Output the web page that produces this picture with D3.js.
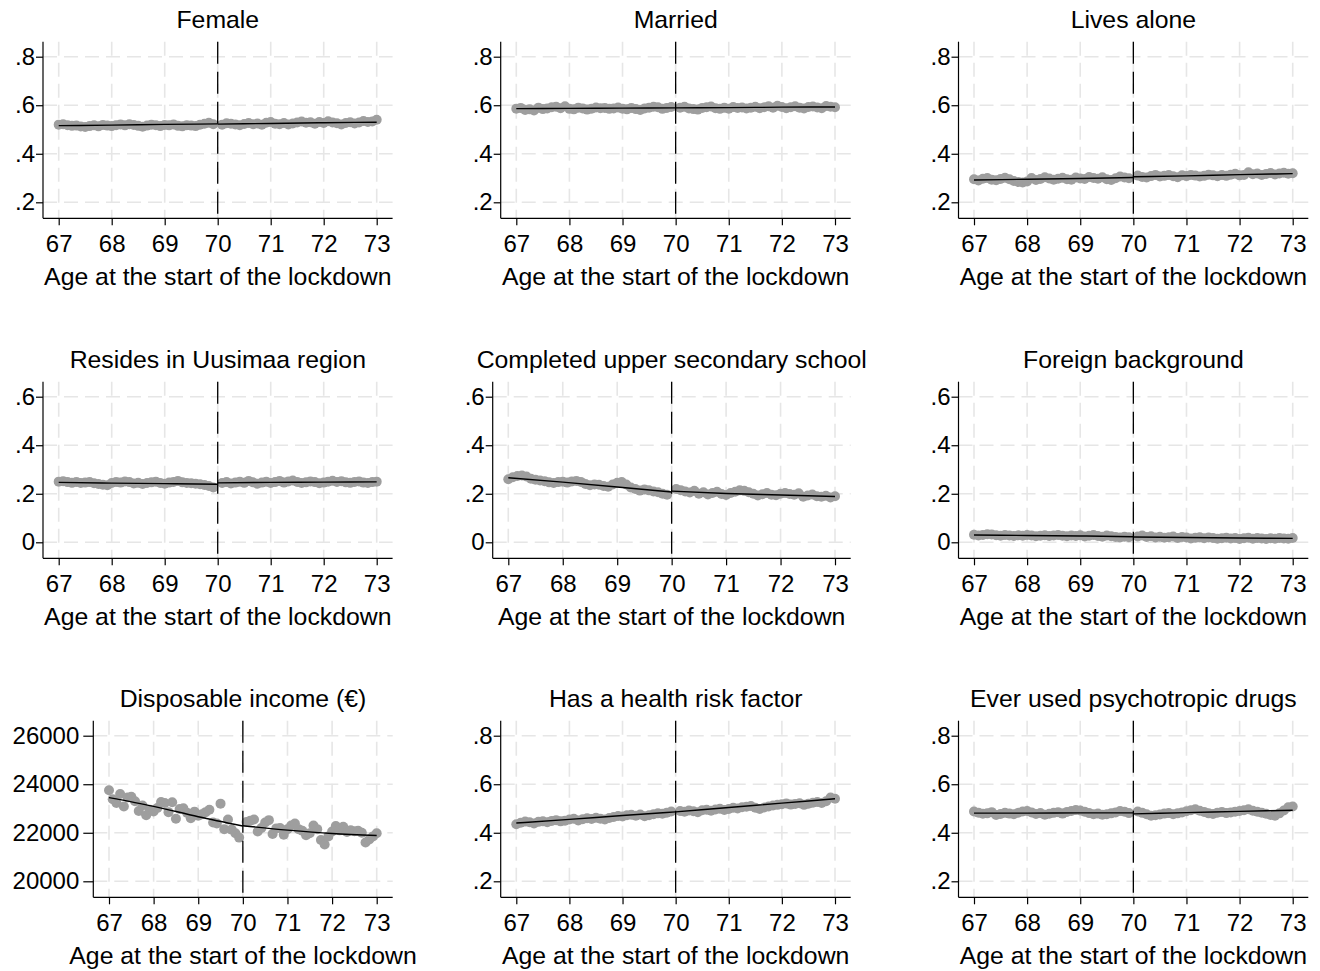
<!DOCTYPE html>
<html lang="en">
<head>
<meta charset="UTF-8">
<script src="https://d3js.org/d3.v7.min.js"></script>
<style>
  body { margin: 0; background: #fff; font-family: "Liberation Sans", Arial, sans-serif; }
  svg text { fill: #000; }
</style>
</head>
<body>
<div id="chart"></div>
<script>
// ---- data ----
const titles = [
  "Female", "Married", "Lives alone",
  "Resides in Uusimaa region", "Completed upper secondary school", "Foreign background",
  "Disposable income (€)", "Has a health risk factor", "Ever used psychotropic drugs"
];
const xTicks = [67, 68, 69, 70, 71, 72, 73];
const cutoff = 70;
const xTitle = "Age at the start of the lockdown";

const yTicksShare = [0.2, 0.4, 0.6, 0.8];
const yTicksLow = [0, 0.2, 0.4, 0.6];
const yTicksIncome = [20000, 22000, 24000, 26000];

// monthly bins: left side 67..69.92, right side 70.08..73
const ageLeft = d3.range(36).map(k => 67 + k / 12);
const ageRight = d3.range(36).map(k => 70 + (k + 1) / 12);
const fitAgesLeft = [67, 68, 69, 70];
const fitAgesRight = [70, 71, 72, 73];

const femaleL = [.520,.522,.518,.515,.516,.512,.510,.514,.517,.513,.519,.516,.514,.518,.521,.517,.522,.519,.515,.511,.516,.520,.518,.514,.519,.517,.521,.515,.513,.518,.516,.514,.520,.524,.528,.522];
const femaleR = [.520,.526,.524,.521,.518,.523,.527,.522,.525,.520,.528,.531,.524,.522,.527,.521,.525,.529,.533,.528,.530,.524,.531,.527,.534,.529,.526,.521,.527,.530,.525,.529,.535,.531,.533,.540];
const marriedL = [.586,.589,.580,.583,.578,.590,.584,.587,.592,.594,.588,.596,.585,.583,.590,.587,.582,.586,.591,.588,.589,.585,.587,.591,.586,.583,.589,.584,.580,.587,.590,.594,.592,.585,.589,.593];
const marriedR = [.590,.594,.587,.584,.582,.589,.592,.595,.588,.585,.590,.586,.593,.589,.591,.587,.590,.594,.588,.592,.596,.590,.598,.593,.588,.592,.596,.590,.587,.593,.595,.591,.588,.597,.594,.592];
const aloneL = [.295,.290,.297,.300,.293,.291,.296,.301,.295,.288,.284,.282,.286,.300,.292,.296,.303,.298,.293,.297,.301,.295,.293,.302,.298,.296,.304,.300,.297,.303,.295,.292,.299,.306,.302,.299];
const aloneR = [.310,.304,.302,.308,.313,.306,.309,.312,.307,.303,.311,.308,.313,.310,.306,.309,.314,.311,.307,.312,.309,.314,.318,.311,.313,.324,.316,.319,.313,.317,.321,.315,.319,.322,.318,.320];
const uusimaaL = [.250,.252,.248,.245,.249,.244,.246,.248,.243,.240,.237,.235,.244,.249,.246,.251,.248,.242,.245,.240,.244,.247,.250,.244,.241,.246,.249,.253,.247,.244,.243,.241,.239,.236,.232,.226];
const uusimaaR = [.244,.248,.242,.246,.250,.245,.253,.247,.241,.246,.250,.244,.248,.253,.246,.251,.255,.249,.244,.247,.251,.248,.243,.246,.250,.254,.249,.252,.247,.245,.249,.251,.246,.244,.248,.250];
const schoolL = [.260,.268,.273,.275,.271,.262,.258,.255,.252,.247,.244,.248,.250,.246,.251,.253,.249,.240,.235,.238,.237,.232,.229,.238,.245,.248,.238,.226,.220,.213,.218,.214,.209,.206,.200,.196];
const schoolR = [.220,.215,.209,.205,.212,.200,.206,.197,.203,.208,.199,.195,.203,.208,.214,.212,.206,.200,.193,.198,.203,.196,.194,.200,.203,.199,.196,.202,.188,.193,.197,.190,.188,.192,.185,.190];
const foreignL = [.031,.028,.030,.033,.032,.029,.027,.030,.028,.026,.029,.027,.030,.028,.025,.027,.029,.026,.028,.030,.027,.025,.028,.026,.029,.024,.027,.030,.026,.023,.028,.025,.022,.020,.023,.021];
const foreignR = [.024,.028,.022,.025,.020,.023,.019,.021,.024,.018,.022,.020,.016,.019,.021,.017,.020,.018,.015,.017,.019,.016,.018,.014,.017,.019,.015,.018,.016,.014,.017,.015,.018,.016,.015,.018];
const incomeL = [23750,23380,23230,23600,23080,23450,23480,23300,22900,23120,22720,22950,22880,23020,23270,23230,22850,23260,22580,22980,23010,22820,22600,22870,22700,22760,22850,22950,22420,22380,23200,22150,22550,22130,21980,21800];
const incomeR = [22440,22500,22550,22050,22200,22420,22520,21950,22180,22200,21920,22150,22300,22380,22150,22080,21900,21980,22300,22150,21700,21520,21850,22050,22280,22100,22250,22030,22100,22060,22080,22000,21600,21720,21850,21980];
const healthL = [.435,.441,.446,.443,.438,.445,.447,.443,.449,.452,.447,.450,.455,.458,.451,.456,.460,.457,.462,.458,.455,.461,.465,.469,.467,.472,.474,.470,.475,.468,.472,.476,.480,.478,.483,.488];
const healthR = [.490,.487,.492,.489,.485,.493,.495,.491,.496,.499,.494,.498,.503,.500,.505,.507,.510,.503,.498,.504,.508,.512,.515,.518,.521,.516,.519,.522,.515,.520,.524,.527,.523,.530,.545,.540];
const drugsL = [.488,.483,.478,.480,.485,.473,.477,.482,.479,.476,.483,.488,.490,.484,.477,.481,.474,.478,.482,.485,.479,.486,.490,.494,.492,.487,.481,.476,.479,.474,.476,.480,.484,.490,.487,.481];
const drugsR = [.488,.482,.476,.470,.472,.475,.479,.481,.476,.480,.484,.489,.493,.497,.491,.486,.480,.477,.483,.486,.481,.484,.487,.490,.493,.497,.491,.487,.483,.478,.473,.470,.480,.492,.505,.508];

// fitted values at fitAgesLeft / fitAgesRight
const fitL = [
  [.516,.518,.521,.523], [.586,.587,.588,.589], [.292,.295,.298,.302],
  [.247,.244,.242,.239], [.266,.248,.228,.207], [.030,.028,.026,.023],
  [23450,23090,22660,22280], [.440,.455,.471,.486], [.481,.481,.482,.482]
];
const fitR = [
  [.522,.525,.528,.530], [.589,.590,.592,.593], [.305,.309,.314,.318],
  [.245,.247,.248,.249], [.211,.201,.195,.189], [.022,.020,.018,.016],
  [22290,22110,21970,21890], [.486,.504,.522,.540], [.478,.483,.488,.493]
];

const seriesL = [femaleL, marriedL, aloneL, uusimaaL, schoolL, foreignL, incomeL, healthL, drugsL];
const seriesR = [femaleR, marriedR, aloneR, uusimaaR, schoolR, foreignR, incomeR, healthR, drugsR];
const yTickSets = [yTicksShare, yTicksShare, yTicksShare, yTicksLow, yTicksLow, yTicksLow, yTicksIncome, yTicksShare, yTicksShare];

// ---- layout ----
const W = 1320, H = 971;
const rowTop = [0, 340, 679];
// y-axis line x, pixel of age 67, pixel of age 73, right end of plot
const colGeom = [
  [43, 58.7, 376.7, 392.6],
  [500.7, 516.3, 835, 850.7],
  [958.5, 974, 1292.7, 1308.3]
];
const geomOverride = { 4: [492.7, 508.3, 835, 850.7], 6: [93.3, 109, 376.7, 392.7] };
const plotTop = 41.7, plotBottom = 218.3, tickHiPx = 56.7, tickLoPx = 202.3;
const tickFont = 24, labelFont = 24.8;
const fontFamily = "Liberation Sans, Arial, sans-serif";

const svg = d3.select("#chart").append("svg")
  .attr("width", W).attr("height", H);

const fmtShare = d => d === 0 ? "0" : d3.format(".1f")(d).replace(/^0/, "");

titles.forEach((title, i) => {
  const row = Math.floor(i / 3), col = i % 3;
  const [ax, x67, x73, xr] = geomOverride[i] || colGeom[col];
  const ticks = yTickSets[i];
  const isIncome = i === 6;
  const g = svg.append("g").attr("transform", `translate(0,${rowTop[row]})`);

  const x = d3.scaleLinear().domain([67, 73]).range([x67, x73]);
  const y = d3.scaleLinear().domain([ticks[0], ticks[ticks.length - 1]]).range([tickLoPx, tickHiPx]);

  // grid
  const grid = g.append("g").attr("stroke", "#e6e6e6").attr("stroke-width", 1.6)
    .attr("stroke-dasharray", "14,7");
  ticks.forEach(t => grid.append("line")
    .attr("x1", ax).attr("x2", xr).attr("y1", y(t)).attr("y2", y(t)));
  xTicks.forEach(t => grid.append("line")
    .attr("x1", x(t)).attr("x2", x(t)).attr("y1", plotTop).attr("y2", plotBottom));

  // points
  const pts = ageLeft.map((a, k) => [a, seriesL[i][k]])
    .concat(ageRight.map((a, k) => [a, seriesR[i][k]]));
  g.append("g").selectAll("circle").data(pts).join("circle")
    .attr("cx", d => x(d[0])).attr("cy", d => y(d[1])).attr("r", 5)
    .attr("fill", "#9e9e9e");

  // fitted lines
  const line = d3.line().x(d => x(d[0])).y(d => y(d[1])).curve(d3.curveMonotoneX);
  [[fitAgesLeft, fitL[i]], [fitAgesRight, fitR[i]]].forEach(([ages, vals]) => {
    g.append("path").datum(ages.map((a, k) => [a, vals[k]]))
      .attr("d", line).attr("fill", "none").attr("stroke", "#000").attr("stroke-width", 1.4);
  });

  // cutoff line
  g.append("line")
    .attr("x1", x(cutoff)).attr("x2", x(cutoff)).attr("y1", plotTop).attr("y2", plotBottom)
    .attr("stroke", "#000").attr("stroke-width", 1.3).attr("stroke-dasharray", "22,8");

  // y axis
  const yAx = d3.axisLeft(y).tickValues(ticks).tickSize(isIncome ? 10 : 7).tickSizeOuter(0)
    .tickFormat(isIncome ? d3.format("d") : fmtShare);
  const yg = g.append("g").attr("transform", `translate(${ax},0)`).call(yAx);
  yg.select(".domain").attr("d", `M0,${plotTop}V${plotBottom}`);
  yg.selectAll("text").attr("font-size", tickFont).attr("font-family", fontFamily)
    .attr("x", isIncome ? -14 : -8);

  // x axis
  const xAx = d3.axisBottom(x).tickValues(xTicks).tickSize(7).tickSizeOuter(0).tickFormat(d3.format("d"));
  const xg = g.append("g").attr("transform", `translate(0,${plotBottom})`).call(xAx);
  xg.select(".domain").attr("d", `M${ax},0H${xr}`);
  xg.selectAll("text").attr("font-size", tickFont).attr("font-family", fontFamily)
    .attr("dy", null).attr("y", 33.5);
  [yg, xg].forEach(a => a.selectAll("path,line").attr("stroke", "#000").attr("stroke-width", 1.2));

  const cx = (ax + xr) / 2;
  g.append("text").attr("x", cx).attr("y", 28).attr("text-anchor", "middle")
    .attr("font-size", labelFont).text(title);
  g.append("text").attr("x", cx).attr("y", 284.5).attr("text-anchor", "middle")
    .attr("font-size", labelFont).text(xTitle);
});
</script>
</body>
</html>
